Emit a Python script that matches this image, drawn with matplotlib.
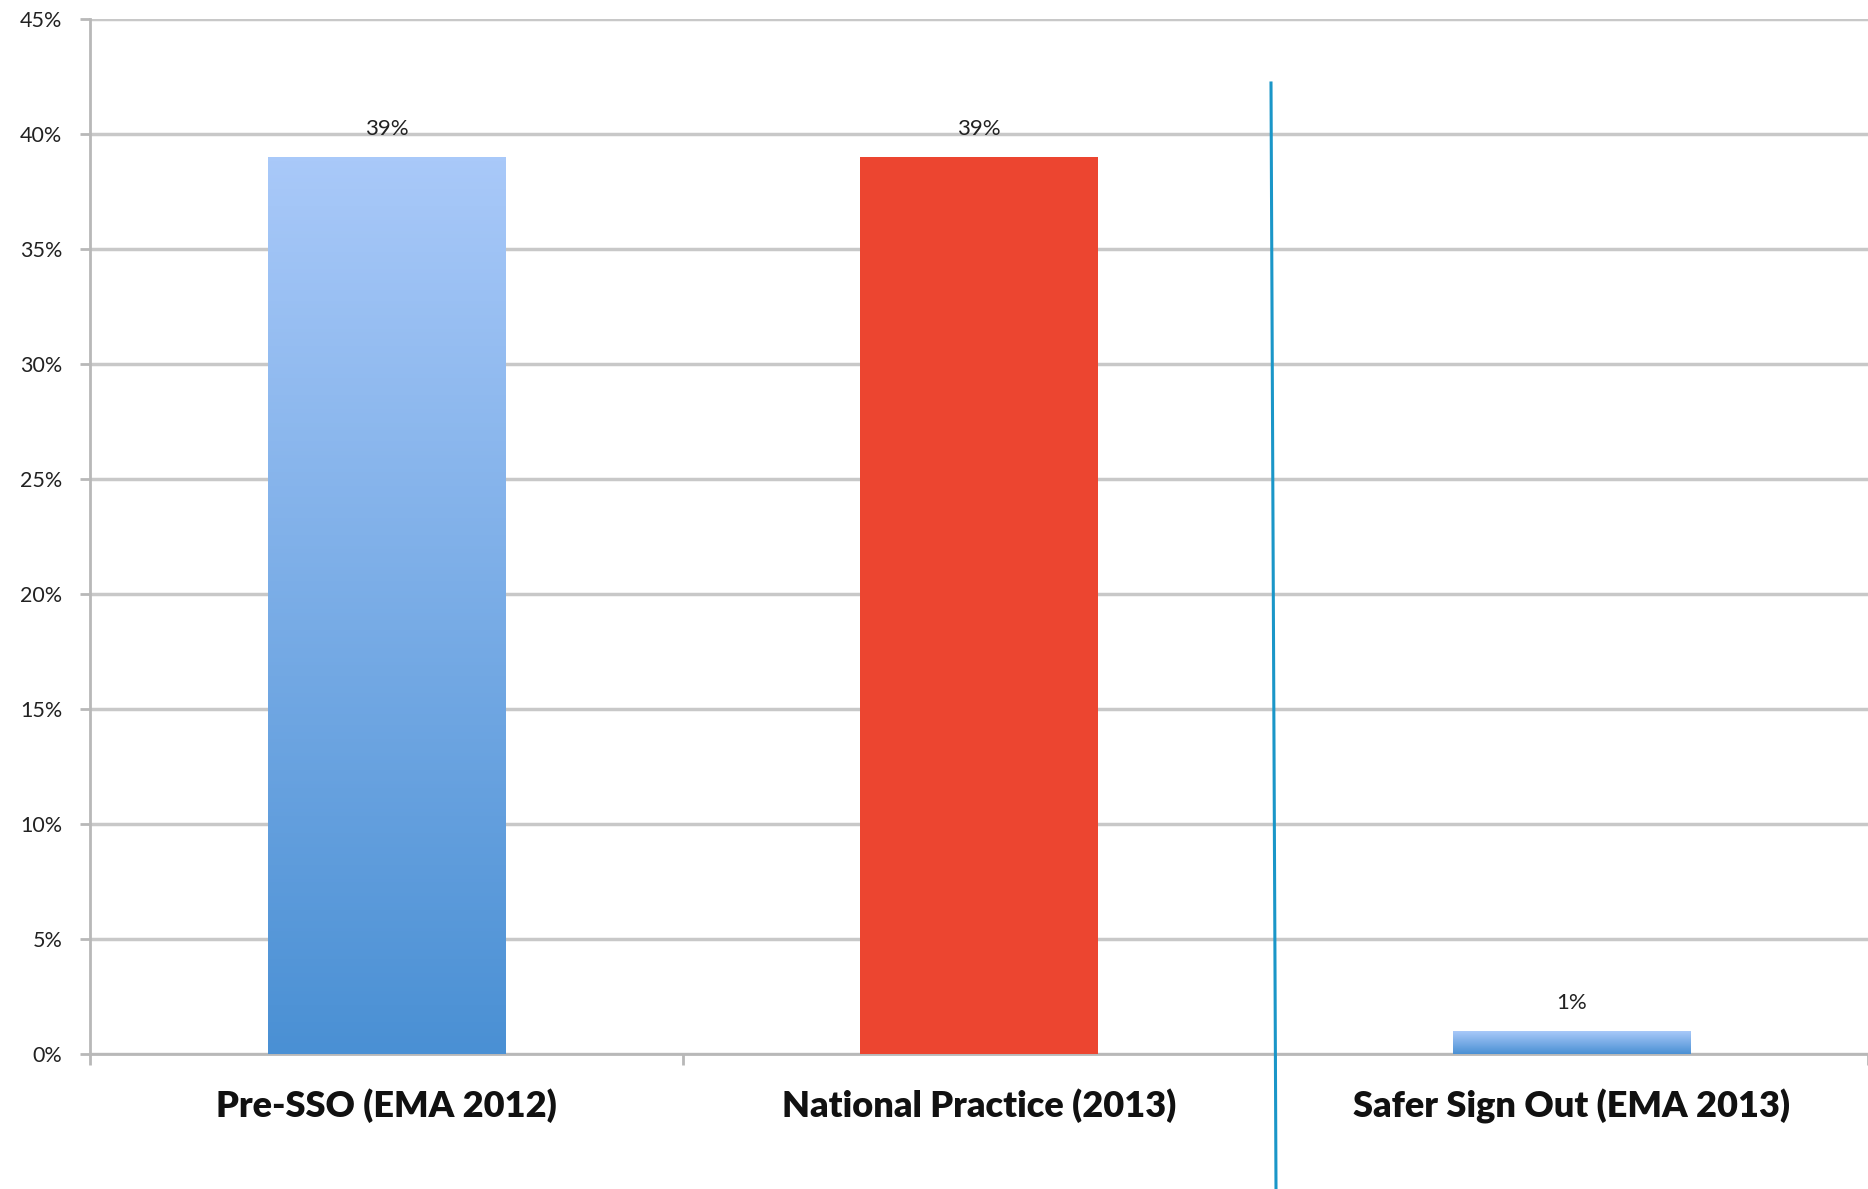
import numpy as np
import matplotlib
matplotlib.use("Agg")
import matplotlib.pyplot as plt
from matplotlib.lines import Line2D
from matplotlib.colors import LinearSegmentedColormap

categories = ["Pre-SSO (EMA 2012)", "National Practice (2013)", "Safer Sign Out (EMA 2013)"]
values = [39, 39, 1]
value_labels = ["39%", "39%", "1%"]
yticks = [0, 5, 10, 15, 20, 25, 30, 35, 40, 45]

plt.rcParams['font.family'] = ['Lato', 'DejaVu Sans']

fig = plt.figure(figsize=(18.68, 11.89), dpi=100)
ax = fig.add_axes([90/1868, 135/1189, 1 - 90/1868, 1035/1189])

x = np.arange(len(categories))
bars = ax.bar(x, values, width=0.4, color=["#7aaae8", "#ec4530", "#7aaae8"], zorder=3)

ax.set_xlim(-0.5, 2.5)
ax.set_ylim(0, 45)
ax.set_yticks(yticks)
ax.set_yticklabels([f"{t}%" for t in yticks], fontsize=15.5, color="#222222")
ax.yaxis.grid(True, color="#c8c8c8", linewidth=2.5, zorder=0)
ax.set_axisbelow(True)

ax.set_xticks([-0.5, 0.5, 1.5, 2.5])
ax.set_xticklabels([])
ax.set_xticks(x, minor=True)
ax.set_xticklabels(categories, minor=True, fontsize=26, fontweight="heavy", color="#111111")
ax.tick_params(axis="x", which="minor", length=0, pad=25)
ax.tick_params(axis="x", which="major", length=8, width=2, color="#b8b8b8", direction="out")
ax.tick_params(axis="y", length=7, width=2, color="#b8b8b8", pad=13)

for s in ["top", "right"]:
    ax.spines[s].set_visible(False)
for s in ["left", "bottom"]:
    ax.spines[s].set_color("#b8b8b8")
    ax.spines[s].set_linewidth(2)

# gradient fill for blue bars
cmap = LinearSegmentedColormap.from_list("blue_grad", ["#4a90d4", "#a9c9f9"])
grad = np.linspace(0, 1, 256).reshape(-1, 1)
for i, b in enumerate(bars):
    if i == 1:
        continue
    b.set_facecolor("none")
    bx, by = b.get_x(), b.get_y()
    bw, bh = b.get_width(), b.get_height()
    im = ax.imshow(grad, cmap=cmap, origin="lower", aspect="auto",
                   extent=[bx, bx + bw, by, by + bh], zorder=3)
    im.set_clip_path(b)

for b, lab in zip(bars, value_labels):
    ax.annotate(lab, (b.get_x() + b.get_width() / 2, b.get_height()),
                xytext=(0, 13), textcoords="offset points",
                ha="center", va="bottom", fontsize=16, color="#222222")

ax.set_xlim(-0.5, 2.5)
ax.set_ylim(0, 45)

# vertical separator line
fig.add_artist(Line2D([1271/1868, 1276/1868], [1 - 83/1189, 0], transform=fig.transFigure,
                      color="#1a96c8", linewidth=2.2))

fig.savefig("out.png", dpi=100)
